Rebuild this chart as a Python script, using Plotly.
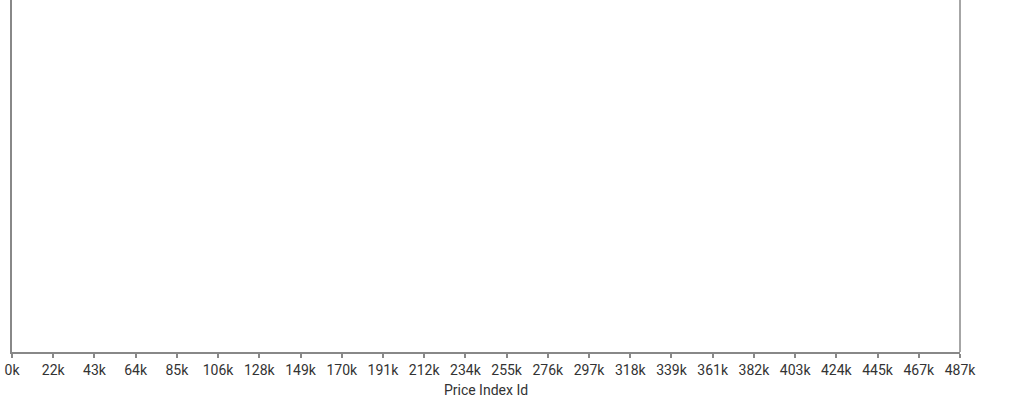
import numpy as np
import plotly.graph_objects as go

# Data (the chart shows no marks, only the axis)
price_index_id = []
values = []
tick_labels = ["0k", "22k", "43k", "64k", "85k", "106k", "128k", "149k", "170k",
               "191k", "212k", "234k", "255k", "276k", "297k", "318k", "339k",
               "361k", "382k", "403k", "424k", "445k", "467k", "487k"]
x_max = 487000

tick_vals = np.linspace(0, x_max, len(tick_labels))

fig = go.Figure()
fig.add_trace(go.Scatter(x=price_index_id, y=values, mode="markers", showlegend=False))

axis_color = "#888888"
text_color = "#333333"
fig.update_layout(
    width=1024, height=400,
    margin=dict(l=12, r=64, t=0, b=48),
    paper_bgcolor="white", plot_bgcolor="white",
    font=dict(family="Roboto", size=14, color=text_color),
    xaxis=dict(
        range=[0, x_max], tickvals=tick_vals, ticktext=tick_labels,
        showgrid=False, zeroline=False, showline=True, linecolor=axis_color, linewidth=1.5,
        ticks="outside", ticklen=4, tickcolor=axis_color, tickwidth=1.5,
        tickfont=dict(family="Roboto", size=14, color=text_color),
        title=dict(text="Price Index Id",
                   font=dict(family="Roboto", size=14, color=text_color),
                   standoff=9),
    ),
    yaxis=dict(
        range=[0, 1], showgrid=False, zeroline=False, showticklabels=False,
        showline=True, linecolor=axis_color, linewidth=1.5, ticks="",
    ),
    shapes=[dict(type="line", xref="paper", yref="paper", x0=1, x1=1, y0=0, y1=1,
                 line=dict(color=axis_color, width=1.5))],
)

fig.write_html("out.html")
